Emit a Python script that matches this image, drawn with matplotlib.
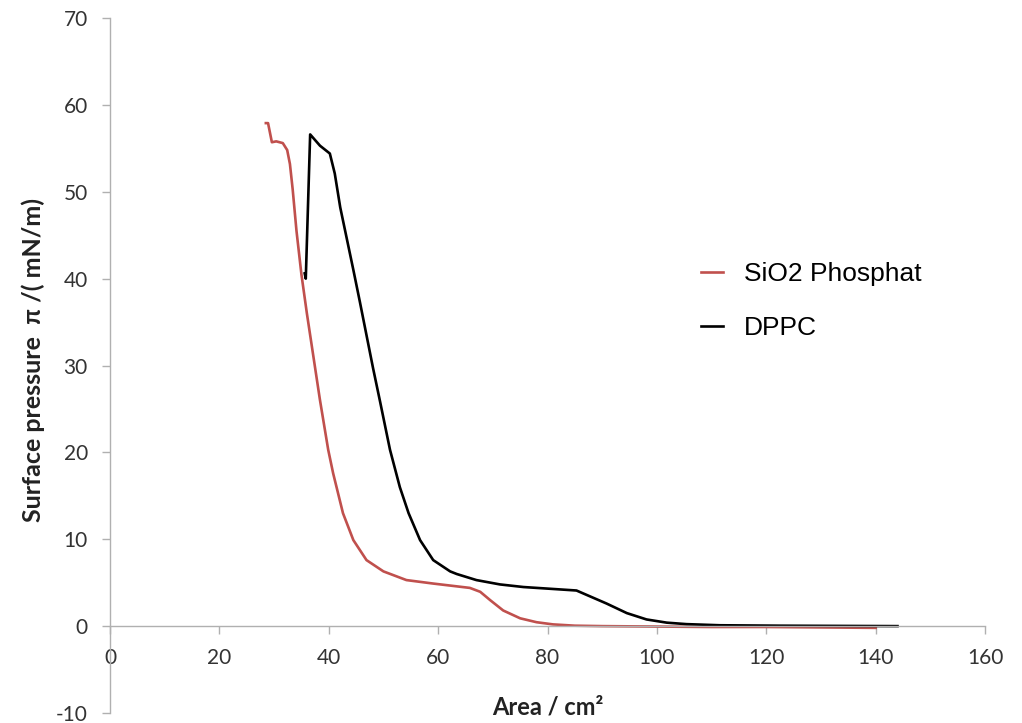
import numpy as np
import matplotlib
matplotlib.use('Agg')
import matplotlib.pyplot as plt

plt.rcParams['axes.unicode_minus'] = False

# SiO2 Phosphat isotherm (area cm2, surface pressure mN/m)
sio2_area = [28.5, 28.9, 29.6, 30.4, 31.6, 32.4, 32.9, 33.4, 34.1, 35.0, 36.0, 37.2,
	38.4, 39.9, 40.8, 42.6, 44.5, 46.9, 50.0, 54.2, 59.1, 65.8, 67.7,
	69.5, 71.9, 75.0, 78.0, 81.0, 85.0, 90.0, 100.0, 110.0, 120.0, 130.0, 140.0]
sio2_pressure = [57.9, 57.9, 55.7, 55.8, 55.6, 54.8, 53.2, 50.3, 45.5, 40.5, 36.0, 31.0,
	26.0, 20.3, 17.6, 13.0, 9.9, 7.6, 6.3, 5.3, 4.9, 4.4, 3.95,
	3.0, 1.8, 0.9, 0.45, 0.2, 0.05, 0.0, -0.05, -0.1, -0.1, -0.15, -0.2]

# DPPC isotherm
dppc_area = [35.6, 35.8, 36.6, 38.4, 40.2, 41.1, 42.1, 43.3, 44.5, 45.7, 46.9,
	48.1, 49.4, 51.2, 53.0, 54.6, 56.7, 59.1, 62.2, 63.4, 67.0, 71.3, 75.6,
	85.3, 90.8, 94.5, 98.1, 101.8, 105.4, 111.5, 122.5, 144.0]
dppc_pressure = [40.6, 40.0, 56.6, 55.3, 54.4, 52.1, 48.2, 44.6, 41.0, 37.3, 33.5,
	29.7, 25.8, 20.3, 16.0, 13.0, 9.9, 7.6, 6.3, 6.0, 5.3, 4.8, 4.5,
	4.1, 2.6, 1.5, 0.77, 0.4, 0.23, 0.1, 0.05, 0.0]

x_ticks = [0, 20, 40, 60, 80, 100, 120, 140, 160]
y_ticks = [-10, 0, 10, 20, 30, 40, 50, 60, 70]

def plot_isotherm():
	fig = plt.figure(figsize=(10.22, 7.23), dpi=100)
	ax = fig.add_axes([110/1022, 10/723, 875/1022, 695/723])

	ax.plot(sio2_area, sio2_pressure, color='#c0504d', lw=1.9, label='SiO2 Phosphat')
	ax.plot(dppc_area, dppc_pressure, color='black', lw=1.9, label='DPPC')

	ax.set_xlim(0, 160)
	ax.set_ylim(-10, 70)
	ax.set_xticks(x_ticks)
	ax.set_yticks(y_ticks)

	# excel style axes: x axis crosses at zero
	ax.spines['top'].set_visible(False)
	ax.spines['right'].set_visible(False)
	ax.spines['bottom'].set_position(('data', 0))
	for s in ['left', 'bottom']:
		ax.spines[s].set_color('#b0b0b0')
		ax.spines[s].set_linewidth(1.0)
	ax.tick_params(axis='both', colors='#b0b0b0', labelcolor='#333333',
		length=6, width=1.0, labelsize=15, pad=10)
	for lab in ax.get_xticklabels() + ax.get_yticklabels():
		lab.set_fontfamily('Lato')

	fig.text(33/1022, 1 - 360/723, 'Surface pressure  π /( mN/m)', rotation=90,
		ha='center', va='center', fontsize=18, fontweight='bold',
		family='Lato', color='#222222')
	fig.text(548/1022, 1 - 707/723, 'Area / cm²', ha='center', va='center',
		fontsize=17, fontweight='bold', family='Lato', color='#222222')

	leg = ax.legend(loc='upper left', bbox_to_anchor=(677/1022, 1 - 238/723),
		bbox_transform=fig.transFigure, frameon=False, handlelength=0.85,
		handletextpad=0.8, labelspacing=1.15, prop={'family': 'Liberation Sans', 'size': 19})
	for t in leg.get_texts():
		t.set_color('black')

	fig.savefig('out.png', dpi=100)

plot_isotherm()
